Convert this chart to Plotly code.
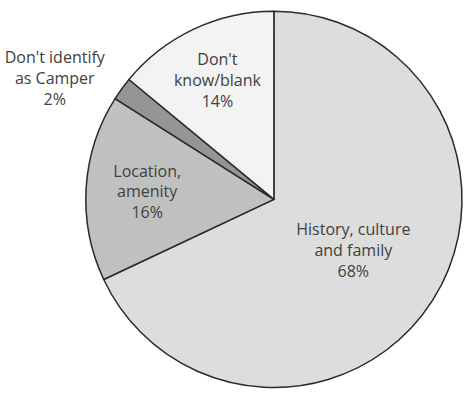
import plotly.graph_objects as go

labels = ["History, culture and family", "Location, amenity", "Don't identify as Camper", "Don't know/blank"]
label_text = ["History, culture<br>and family", "Location,<br>amenity", "Don't identify<br>as Camper", "Don't<br>know/blank"]
values = [68, 16, 2, 14]
colors = ["#dddddd", "#c0c0c0", "#959595", "#f3f3f3"]
positions = ["inside", "inside", "outside", "inside"]

fig = go.Figure(go.Pie(
    labels=labels,
    values=values,
    text=label_text,
    texttemplate="%{text}<br>%{percent:.0%}",
    textposition=positions,
    insidetextorientation="horizontal",
    sort=False,
    direction="clockwise",
    rotation=0,
    marker=dict(colors=colors, line=dict(color="#2a2a2a", width=1.5)),
    textfont=dict(family="Open Sans", size=16, color="#404040"),
    showlegend=False,
    hoverinfo="label+percent",
    domain=dict(x=[0.175, 1.0], y=[0.0, 0.975]),
))

fig.update_layout(
    width=467, height=396,
    margin=dict(l=0, r=0, t=0, b=0),
    paper_bgcolor="white",
    plot_bgcolor="white",
    uniformtext=dict(minsize=14, mode="show"),
)

fig.write_html("out.html")
